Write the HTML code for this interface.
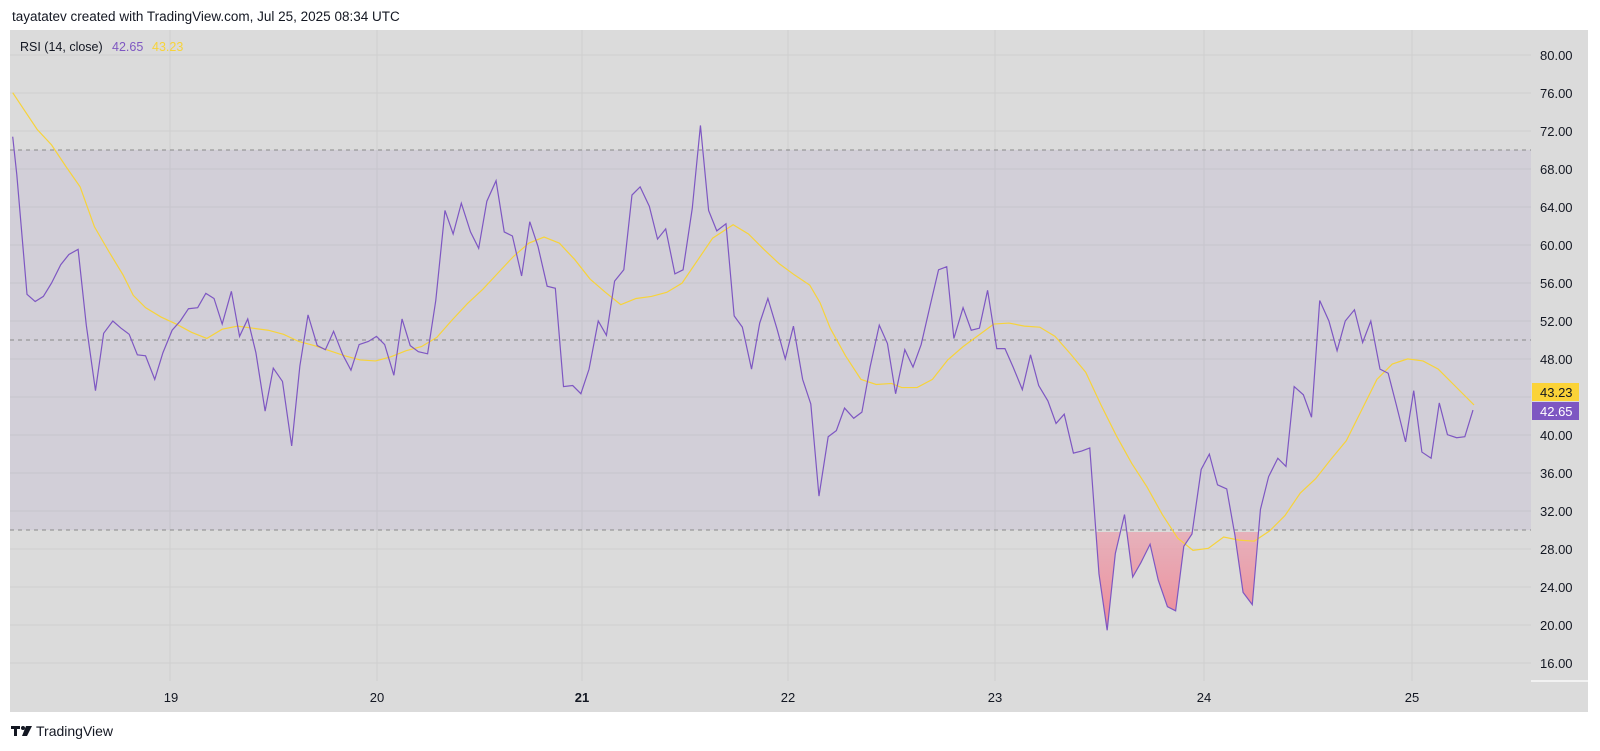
<!DOCTYPE html>
<html><head><meta charset="utf-8"><style>
html,body{margin:0;padding:0;background:#fff;width:1600px;height:751px;overflow:hidden;font-family:"Liberation Sans",sans-serif;}
</style></head><body>
<svg width="1600" height="751" xmlns="http://www.w3.org/2000/svg" font-family="Liberation Sans, sans-serif">
<rect x="0" y="0" width="1600" height="751" fill="#ffffff"/>
<text x="12" y="21" font-size="13.5" fill="#131722">tayatatev created with TradingView.com, Jul 25, 2025 08:34 UTC</text>
<rect x="10" y="30" width="1578" height="682" fill="#dbdbdb"/>
<defs>
<clipPath id="plot"><rect x="10" y="30" width="1521" height="651"/></clipPath>
<clipPath id="below"><rect x="0" y="519" width="1600" height="200"/></clipPath>
<linearGradient id="rg" x1="0" y1="0" x2="0" y2="1"><stop offset="0" stop-color="#e8b8c4" stop-opacity="0.5"/><stop offset="1" stop-color="#f08090" stop-opacity="0.9"/></linearGradient>
</defs>
<!-- grid -->
<g stroke="#cfcfcf" stroke-width="1">
<line x1="10" x2="1531" y1="55" y2="55"/><line x1="10" x2="1531" y1="93" y2="93"/><line x1="10" x2="1531" y1="131" y2="131"/><line x1="10" x2="1531" y1="169" y2="169"/><line x1="10" x2="1531" y1="207" y2="207"/><line x1="10" x2="1531" y1="245" y2="245"/><line x1="10" x2="1531" y1="283" y2="283"/><line x1="10" x2="1531" y1="321" y2="321"/><line x1="10" x2="1531" y1="359" y2="359"/><line x1="10" x2="1531" y1="397" y2="397"/><line x1="10" x2="1531" y1="435" y2="435"/><line x1="10" x2="1531" y1="473" y2="473"/><line x1="10" x2="1531" y1="511" y2="511"/><line x1="10" x2="1531" y1="549" y2="549"/><line x1="10" x2="1531" y1="587" y2="587"/><line x1="10" x2="1531" y1="625" y2="625"/><line x1="10" x2="1531" y1="663" y2="663"/>
<line y1="30" y2="681" x1="170" x2="170"/><line y1="30" y2="681" x1="377" x2="377"/><line y1="30" y2="681" x1="582" x2="582"/><line y1="30" y2="681" x1="788" x2="788"/><line y1="30" y2="681" x1="995" x2="995"/><line y1="30" y2="681" x1="1204" x2="1204"/><line y1="30" y2="681" x1="1412" x2="1412"/>
</g>
<rect x="10" y="150" width="1521" height="380" fill="rgba(126,87,194,0.09)"/>
<g stroke="#888" stroke-width="1" stroke-dasharray="4,4">
<line x1="10" x2="1531" y1="150" y2="150"/><line x1="10" x2="1531" y1="340" y2="340"/><line x1="10" x2="1531" y1="530" y2="530"/>
</g>
<g clip-path="url(#plot)">
<g transform="translate(2.48,0.5) scale(1.0219,1.024)">
<g clip-path="url(#below)">
<polygon fill="url(#rg)" points="1064,519 1064,437 1073,560 1081,615 1089,540 1098,502 1106,563 1114,549 1123,531 1131,566 1140,592 1148,596 1156,533 1164,521 1173,458 1181,443 1189,473 1198,477 1206,522 1214,578 1223,590 1231,497 1239,465 1239,519"/>
</g>
<polyline fill="none" stroke="#f7d33a" stroke-width="1.2" vector-effect="non-scaling-stroke" points="10,90 20,105 34,126 48,141 62,162 76,182 90,221 104,245 118,268 128,288 140,300 155,309 170,316 185,324 200,330 215,321 230,318 245,320 260,322 275,326 290,333 305,337 320,342 335,347 350,351 365,352 380,348 395,342 410,338 425,329 440,312 455,296 470,282 485,266 500,250 515,237 530,231 545,237 560,253 575,272 590,285 605,297 620,291 635,289 650,285 665,276 680,254 695,232 715,219 730,228 745,243 760,257 775,268 790,278 800,295 810,320 825,347 840,370 855,375 870,374 880,378 895,378 910,370 925,351 940,338 955,327 970,316 985,315 1000,318 1015,319 1030,328 1045,345 1060,363 1075,395 1090,425 1105,452 1120,475 1135,502 1150,525 1165,537 1180,535 1195,524 1210,527 1225,528 1240,518 1255,503 1270,481 1285,467 1300,448 1315,430 1330,400 1345,370 1360,355 1375,350 1390,352 1405,360 1420,375 1440,395"/>
<polyline fill="none" stroke="#7e57c2" stroke-width="1.2" vector-effect="non-scaling-stroke" points="10,133 14,170 24,287 32,294 40,289 48,276 57,258 65,248 74,243 82,317 91,381 99,325 108,313 116,320 124,326 132,346 140,347 149,370 157,344 166,322 174,313 182,301 191,300 199,286 207,291 215,316 224,284 232,328 240,311 248,344 257,401 265,359 274,372 283,435 291,357 299,307 308,337 316,341 324,323 333,346 341,361 349,336 358,333 366,328 374,336 383,366 391,311 399,337 407,343 416,345 424,293 433,205 441,228 449,198 458,226 466,242 474,196 483,176 491,226 499,230 508,269 516,216 524,240 533,279 541,281 549,377 558,376 566,384 574,360 583,313 591,327 599,274 608,263 616,190 624,182 633,201 641,233 649,223 658,267 666,263 675,203 683,122 691,205 699,225 708,218 716,308 724,319 733,360 741,315 749,291 758,321 766,350 774,318 783,370 791,394 799,484 808,426 816,420 824,398 833,408 841,402 849,358 858,317 866,335 874,384 883,341 891,358 899,336 908,297 916,263 924,260 931,330 940,300 948,322 956,320 964,283 973,340 981,340 989,358 998,380 1006,346 1014,376 1023,391 1031,413 1039,404 1048,442 1056,440 1064,437 1073,560 1081,615 1089,540 1098,502 1106,563 1114,549 1123,531 1131,566 1140,592 1148,596 1156,533 1164,521 1173,458 1181,443 1189,473 1198,477 1206,522 1214,578 1223,590 1231,497 1239,465 1248,447 1256,455 1264,377 1273,385 1281,407 1289,293 1298,313 1306,342 1314,313 1323,302 1331,334 1339,313 1348,360 1356,364 1364,395 1373,431 1381,381 1389,441 1398,447 1406,393 1414,424 1423,427 1431,426 1439,400"/>
</g>
</g>
<text x="20" y="51" font-size="12.5" fill="#131722">RSI (14, close)</text>
<text x="112" y="51" font-size="12.5" fill="#7e57c2">42.65</text>
<text x="152" y="51" font-size="12.5" fill="#f7d33a">43.23</text>
<!-- axis -->
<line x1="1531" x2="1588" y1="681" y2="681" stroke="#f2f2f2" stroke-width="2"/>
<g font-size="13" fill="#131722" text-anchor="start">
<text x="1540" y="60">80.00</text><text x="1540" y="98">76.00</text><text x="1540" y="136">72.00</text><text x="1540" y="174">68.00</text><text x="1540" y="212">64.00</text><text x="1540" y="250">60.00</text><text x="1540" y="288">56.00</text><text x="1540" y="326">52.00</text><text x="1540" y="364">48.00</text><text x="1540" y="440">40.00</text><text x="1540" y="478">36.00</text><text x="1540" y="516">32.00</text><text x="1540" y="554">28.00</text><text x="1540" y="592">24.00</text><text x="1540" y="630">20.00</text><text x="1540" y="668">16.00</text>
</g>
<rect x="1532" y="383" width="47" height="18" fill="#fbd338"/>
<text x="1540" y="397" font-size="13" fill="#131722">43.23</text>
<rect x="1532" y="402" width="47" height="18" fill="#7e57c2"/>
<text x="1540" y="416" font-size="13" fill="#ffffff">42.65</text>
<g font-size="13" fill="#131722" text-anchor="middle">
<text x="171" y="702">19</text><text x="377" y="702">20</text><text x="582" y="702" font-weight="bold">21</text><text x="788" y="702">22</text><text x="995" y="702">23</text><text x="1204" y="702">24</text><text x="1412" y="702">25</text>
</g>
<g fill="#131722">
<rect x="11" y="726" width="9" height="3"/><rect x="14" y="726" width="3" height="10"/><circle cx="23" cy="728" r="2"/><polygon points="26,726 32,726 27,736 22,736"/>
</g>
<text x="36" y="736" font-size="14" fill="#131722">TradingView</text>
</svg>
</body></html>
